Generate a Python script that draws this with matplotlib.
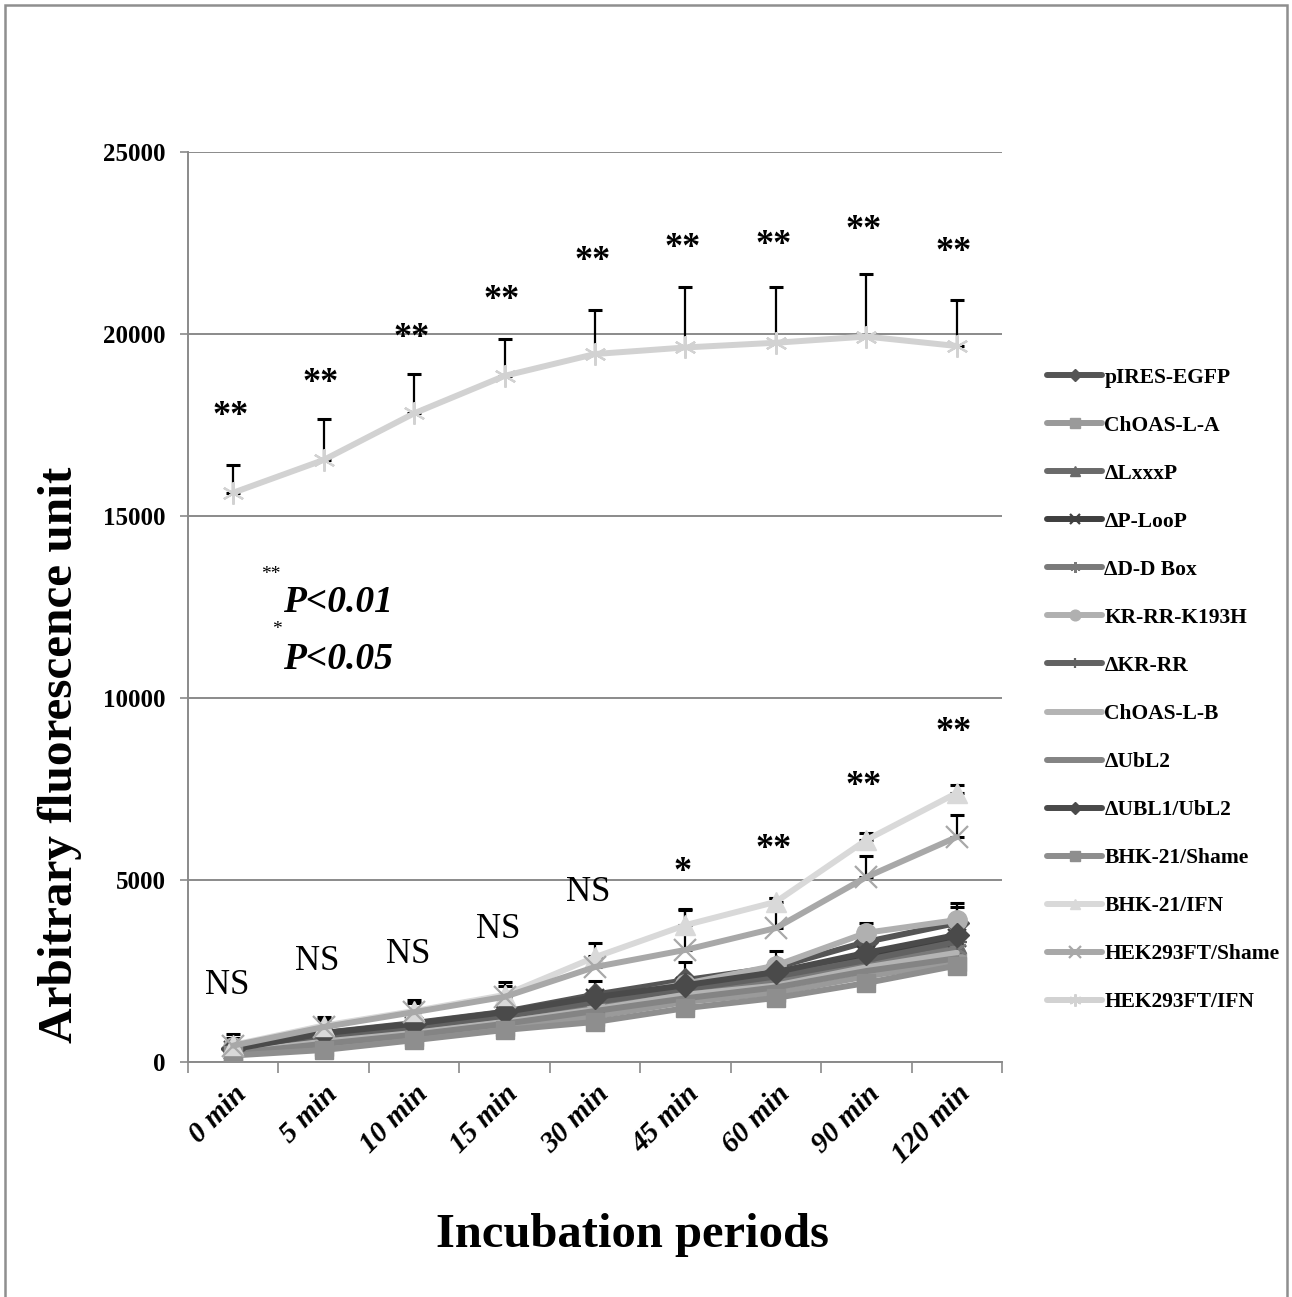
import numpy as np
import matplotlib
matplotlib.use("Agg")
import matplotlib.pyplot as plt
import matplotlib.transforms as mtransforms
from matplotlib.patches import Rectangle

# ---- data ----
periods = ["0 min", "5 min", "10 min", "15 min", "30 min", "45 min", "60 min", "90 min", "120 min"]

series_names = ["pIRES-EGFP", "ChOAS-L-A", "ΔLxxxP", "ΔP-LooP", "ΔD-D Box", "KR-RR-K193H",
                "ΔKR-RR", "ChOAS-L-B", "ΔUbL2", "ΔUBL1/UbL2", "BHK-21/Shame", "BHK-21/IFN",
                "HEK293FT/Shame", "HEK293FT/IFN"]

pires_egfp     = [380, 800, 1070, 1380, 1850, 2250, 2600, 3300, 3820]
choas_l_a      = [200, 400, 680, 950, 1250, 1650, 1900, 2350, 2750]
d_lxxxp        = [300, 650, 900, 1200, 1600, 1950, 2300, 2750, 3250]
d_ploop        = [330, 750, 1000, 1300, 1750, 2080, 2420, 2950, 3400]
d_dd_box       = [280, 600, 850, 1150, 1550, 1900, 2200, 2700, 3100]
kr_rr_k193h    = [400, 700, 950, 1250, 1700, 2150, 2650, 3550, 3900]
d_kr_rr        = [320, 680, 950, 1250, 1650, 2000, 2350, 2800, 3300]
choas_l_b      = [260, 560, 800, 1100, 1450, 1850, 2100, 2600, 3000]
d_ubl2         = [240, 500, 750, 1050, 1400, 1750, 2050, 2500, 2850]
d_ubl1_ubl2    = [350, 790, 1050, 1370, 1780, 2110, 2470, 3000, 3490]
bhk21_shame    = [180, 330, 600, 880, 1100, 1480, 1760, 2170, 2650]
bhk21_ifn      = [470, 1000, 1400, 1840, 2880, 3760, 4400, 6100, 7390]
hek293ft_shame = [450, 960, 1370, 1790, 2610, 3080, 3680, 5080, 6180]
hek293ft_ifn   = [15640, 16540, 17820, 18850, 19450, 19630, 19760, 19930, 19670]

# upper error bars (0 = none drawn)
err_pires_egfp     = [0, 0, 0, 0, 380, 490, 440, 0, 0]
err_kr_rr_k193h    = [0, 0, 0, 0, 0, 0, 0, 280, 470]
err_d_ubl1_ubl2    = [0, 0, 0, 0, 0, 0, 0, 0, 770]
err_bhk21_ifn      = [300, 240, 300, 350, 400, 440, 110, 190, 220]
err_hek293ft_shame = [200, 200, 250, 300, 300, 1100, 820, 580, 600]
err_hek293ft_ifn   = [760, 1120, 1080, 1010, 1210, 1650, 1520, 1720, 1260]

# significance marks above each period
upper_marks   = ["**"] * 9
upper_mark_y  = [17740, 18630, 19870, 20930, 21980, 22350, 22440, 22830, 22230]
lower_marks   = ["NS", "NS", "NS", "NS", "NS", "*", "**", "**", "**"]
lower_mark_y  = [2115, 2750, 2940, 3630, 4670, 5200, 5830, 7560, 9040]

y_ticks = [0, 5000, 10000, 15000, 20000, 25000]

# ---- styling ----
values = [pires_egfp, choas_l_a, d_lxxxp, d_ploop, d_dd_box, kr_rr_k193h, d_kr_rr,
          choas_l_b, d_ubl2, d_ubl1_ubl2, bhk21_shame, bhk21_ifn, hek293ft_shame, hek293ft_ifn]
errors = {"pIRES-EGFP": err_pires_egfp, "KR-RR-K193H": err_kr_rr_k193h,
          "ΔUBL1/UbL2": err_d_ubl1_ubl2, "BHK-21/IFN": err_bhk21_ifn,
          "HEK293FT/Shame": err_hek293ft_shame, "HEK293FT/IFN": err_hek293ft_ifn}
asterisk = (6, 2, 0)
colors  = ["#555555", "#9a9a9a", "#6a6a6a", "#3f3f3f", "#7a7a7a", "#b0b0b0", "#626262",
           "#b4b4b4", "#848484", "#4a4a4a", "#8e8e8e", "#d9d9d9", "#a8a8a8", "#d2d2d2"]
markers = ["D", "s", "^", "x", asterisk, "o", "+", None, None, "D", "s", "^", "x", asterisk]
msizes  = [12, 13, 13, 13, 14, 14, 14, 0, 0, 12, 13, 14, 16, 16]

serif = "Liberation Serif"
plt.rcParams["font.family"] = [serif, "DejaVu Serif"]

fig = plt.figure(figsize=(12.92, 12.97), dpi=100)
ax = fig.add_axes([188 / 1292, 1 - 1062 / 1297, (1002 - 188) / 1292, (1062 - 152) / 1297])

x = np.arange(len(periods))
grid_c = "#8a8a8a"

for name, vals, c, m, ms in zip(series_names, values, colors, markers, msizes):
    vals = np.asarray(vals, float)
    if name in errors:
        e = np.asarray(errors[name], float)
        sel = e > 0
        ax.errorbar(x[sel], vals[sel], yerr=[np.zeros(sel.sum()), e[sel]], fmt="none",
                    ecolor="black", elinewidth=1.6, capsize=5, capthick=2.2, zorder=2)
    kw = dict(color=c, lw=4.3, solid_capstyle="round", solid_joinstyle="round",
              zorder=3, label=name)
    if m is not None:
        mew = 1.6 if m in ("x", "+", asterisk) else 1
        kw.update(marker=m, markersize=ms, markerfacecolor=c, markeredgecolor=c,
                  markeredgewidth=mew)
    ax.plot(x, vals, **kw)

ax.set_xlim(-0.5, len(periods) - 0.5)
ax.set_ylim(0, 25000)
ax.set_yticks(y_ticks)
ax.set_yticklabels([str(v) for v in y_ticks], fontsize=18, fontweight="bold")
ax.yaxis.grid(True, color=grid_c, lw=1.4, zorder=0)
ax.tick_params(axis="y", length=6, color=grid_c, width=1.2, pad=10)

ax.set_xticks(x)
ax.set_xticklabels(periods, rotation=45, ha="right", rotation_mode="anchor",
                   fontsize=21, fontweight="bold", fontstyle="italic")
shift = mtransforms.ScaledTranslation(-14 / 100, 0, fig.dpi_scale_trans)
for lbl in ax.get_xticklabels():
    lbl.set_transform(lbl.get_transform() + shift)
ax.set_xticks(np.arange(-0.5, len(periods)), minor=True)
ax.tick_params(axis="x", which="major", length=0, pad=13)
ax.tick_params(axis="x", which="minor", length=8, color=grid_c, width=1.2)
for s in ("top", "right"):
    ax.spines[s].set_visible(False)
for s in ("left", "bottom"):
    ax.spines[s].set_color(grid_c)
    ax.spines[s].set_linewidth(1.4)

for xi, t, yv in zip(x, upper_marks, upper_mark_y):
    ax.text(xi - 0.03, yv, t, ha="center", va="center", fontsize=26, fontweight="bold", zorder=5)
for xi, t, yv in zip(x, lower_marks, lower_mark_y):
    if t == "NS":
        ax.text(xi - 0.07, yv, t, ha="center", va="center", fontsize=25, zorder=5)
    else:
        ax.text(xi - 0.03, yv, t, ha="center", va="center", fontsize=26, fontweight="bold", zorder=5)

# p-value key
fig.text(271 / 1292, 1 - 574 / 1297, "**", fontsize=14, ha="center", va="center")
fig.text(283 / 1292, 1 - 603 / 1297, "P<0.01", fontsize=27, fontweight="bold",
         fontstyle="italic", ha="left", va="center")
fig.text(277 / 1292, 1 - 630 / 1297, "*", fontsize=14, ha="center", va="center")
fig.text(283 / 1292, 1 - 660 / 1297, "P<0.05", fontsize=27, fontweight="bold",
         fontstyle="italic", ha="left", va="center")

fig.text(60 / 1292, 1 - 755 / 1297, "Arbitrary fluorescence unit", rotation=90,
         fontsize=35.5, fontweight="bold", ha="center", va="center")
fig.text(632 / 1292, 1 - 1235 / 1297, "Incubation periods",
         fontsize=35, fontweight="bold", ha="center", va="center")

handles, labels = ax.get_legend_handles_labels()
fig.legend(handles, labels, loc="center left", bbox_to_anchor=(1028 / 1292, 1 - 690 / 1297),
           frameon=False, prop={"weight": "bold", "size": 15.5},
           handlelength=2.55, handletextpad=0.1, labelspacing=1.3, markerscale=0.55)

# outer frame
fig.patches.append(Rectangle((5 / 1292, -0.01), 1282 / 1292, 1.01 - 5 / 1297,
                             transform=fig.transFigure, fill=False,
                             edgecolor="#8f8f8f", lw=1.8))

fig.savefig("out.png", dpi=100)
